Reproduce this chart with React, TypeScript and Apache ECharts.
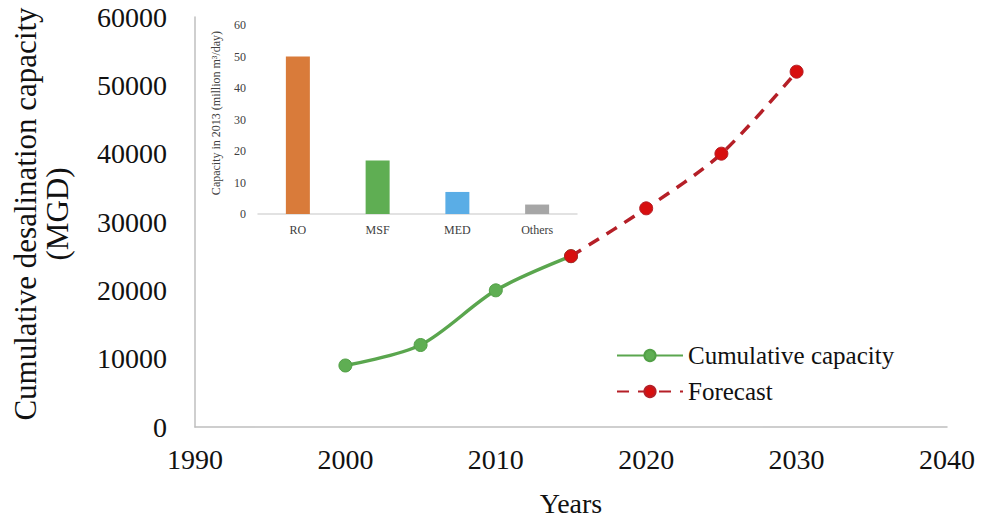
import React, { useEffect, useRef } from "react";
import * as echarts from "echarts";

const histYears = [2000, 2005, 2010, 2015];
const histValues = [9000, 12000, 20000, 25000];
const forecastYears = [2015, 2020, 2025, 2030];
const forecastValues = [25000, 32000, 40000, 52000];

const insetCategories = ["RO", "MSF", "MED", "Others"];
const insetValues = [50, 17, 7, 3];
const insetColors = ["#D97B3A", "#5FAE53", "#5AADE6", "#A6A6A6"];

const SERIF = '"Liberation Serif", "Times New Roman", serif';

export default function App() {
  const ref = useRef<HTMLDivElement>(null);

  useEffect(() => {
    if (!ref.current) return;
    const chart = echarts.init(ref.current, null, { renderer: "svg" });
    const histData = histYears.map((y, i) => [y, histValues[i]]);
    const fcData = forecastYears.map((y, i) => [y, forecastValues[i]]);
    const plain = (v: number) => String(v);
    chart.setOption({
      animation: false,
      backgroundColor: "#ffffff",
      textStyle: { fontFamily: SERIF },
      grid: [
        { left: 195, right: 35, top: 17, bottom: 92 },
        { left: 258, right: 405, top: 25, bottom: 308 },
      ],
      xAxis: [
        {
          type: "value",
          gridIndex: 0,
          min: 1990,
          max: 2040,
          interval: 10,
          axisLine: { show: true, lineStyle: { color: "#BFBFBF", width: 1.5 } },
          axisTick: { show: false },
          splitLine: { show: false },
          axisLabel: { fontFamily: SERIF, fontSize: 28, color: "#111", margin: 18, formatter: plain },
          name: "Years",
          nameLocation: "middle",
          nameGap: 62,
          nameTextStyle: { fontFamily: SERIF, fontSize: 28, color: "#111" },
        },
        {
          type: "category",
          gridIndex: 1,
          data: insetCategories,
          axisLine: { show: true, lineStyle: { color: "#D9D9D9", width: 1.5 } },
          axisTick: { show: false },
          axisLabel: { fontFamily: SERIF, fontSize: 12, color: "#404040", margin: 10 },
        },
      ],
      yAxis: [
        {
          type: "value",
          gridIndex: 0,
          min: 0,
          max: 60000,
          interval: 10000,
          axisLine: { show: true, lineStyle: { color: "#BFBFBF", width: 1.5 } },
          axisTick: { show: false },
          splitLine: { show: false },
          axisLabel: { fontFamily: SERIF, fontSize: 28, color: "#111", margin: 28, formatter: plain },
        },
        {
          type: "value",
          gridIndex: 1,
          min: 0,
          max: 60,
          interval: 10,
          axisLine: { show: false },
          axisTick: { show: false },
          splitLine: { show: false },
          axisLabel: { fontFamily: SERIF, fontSize: 12, color: "#404040", margin: 12 },
        },
      ],
      legend: {
        orient: "vertical",
        left: 611,
        top: 338,
        itemWidth: 66,
        itemHeight: 14,
        itemGap: 11,
        textStyle: { fontFamily: SERIF, fontSize: 25, color: "#111" },
        data: ["Cumulative capacity", "Forecast"],
      },
      graphic: [
        {
          type: "text",
          x: 41,
          y: 214,
          rotation: Math.PI / 2,
          style: {
            text: "Cumulative desalination capacity\n(MGD)",
            fontFamily: SERIF,
            fontSize: 31,
            lineHeight: 32,
            fill: "#111",
            align: "center",
            verticalAlign: "middle",
          },
        },
        {
          type: "text",
          x: 216,
          y: 113,
          rotation: Math.PI / 2,
          style: {
            text: "Capacity in 2013 (million m³/day)",
            fontFamily: SERIF,
            fontSize: 12,
            fill: "#404040",
            align: "center",
            verticalAlign: "middle",
          },
        },
      ],
      series: [
        {
          name: "Forecast",
          type: "line",
          xAxisIndex: 0,
          yAxisIndex: 0,
          data: fcData,
          smooth: 0.3,
          symbol: "circle",
          symbolSize: 13,
          lineStyle: { color: "#B51F27", width: 3.5, type: [12, 9] },
          itemStyle: { color: "#D70F0F", borderColor: "#B51F27", borderWidth: 1 },
          z: 3,
        },
        {
          name: "Cumulative capacity",
          type: "line",
          xAxisIndex: 0,
          yAxisIndex: 0,
          data: histData,
          smooth: 0.3,
          symbol: "circle",
          symbolSize: 13,
          lineStyle: { color: "#5AA64E", width: 3.5 },
          itemStyle: { color: "#5FAE53", borderColor: "#52A047", borderWidth: 1 },
          z: 2,
        },
        {
          name: "inset",
          type: "bar",
          xAxisIndex: 1,
          yAxisIndex: 1,
          barWidth: 24,
          data: insetValues.map((v, i) => ({ value: v, itemStyle: { color: insetColors[i] } })),
        },
      ],
    });
    return () => chart.dispose();
  }, []);

  return (
    <div
      ref={ref}
      style={{ position: "fixed", left: 0, top: 0, width: 982, height: 522 }}
    />
  );
}
